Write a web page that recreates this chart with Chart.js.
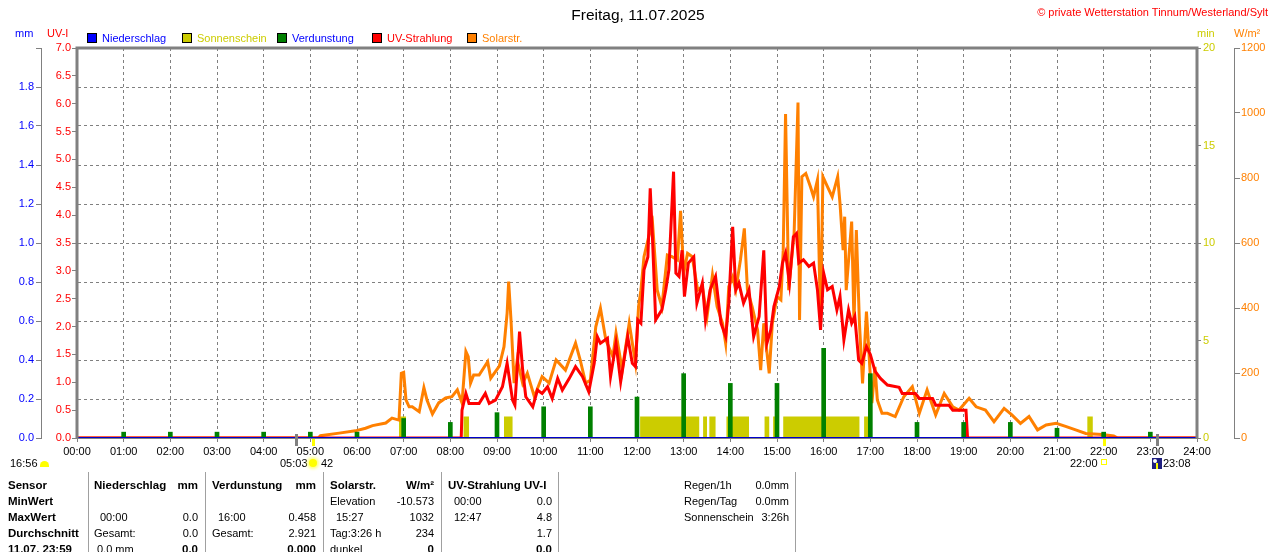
<!DOCTYPE html>
<html lang="de">
<head>
<meta charset="utf-8">
<title>Freitag, 11.07.2025</title>
<script src="https://cdn.jsdelivr.net/npm/chart.js@4.4.1/dist/chart.umd.min.js"></script>
<style>
  body { margin: 0; background: #fff; }
  #wrap { position: relative; width: 1280px; height: 552px; overflow: hidden;
          font-family: "Liberation Sans", Arial, sans-serif; font-size: 11px; color: #000; }
  #chart { position: absolute; left: 0; top: 0; }
  .t { position: absolute; white-space: nowrap; line-height: 14px; }
  .b { font-weight: bold; font-size: 11.5px; }
  .sq { position: absolute; width: 8px; height: 8px; border: 1px solid #000; }
</style>
</head>
<body>
<div id="wrap">
  <canvas id="chart" width="1280" height="552"></canvas>
</div>
<script>
// Freitag 11.07.2025 - Tagesverlauf

const hourLabels = ['00:00','01:00','02:00','03:00','04:00','05:00','06:00','07:00','08:00','09:00','10:00','11:00','12:00',
  '13:00','14:00','15:00','16:00','17:00','18:00','19:00','20:00','21:00','22:00','23:00','24:00'];

// Solarstrahlung W/m²
const solarTimes = [
  '00:00','05:10','05:13','05:37','05:58',
  '06:11','06:20','06:37','06:45','06:54','06:57',
  '07:00','07:03','07:07','07:11','07:20','07:26','07:30','07:37','07:45','07:54',
  '08:02','08:09','08:15','08:20','08:23','08:26','08:30','08:37','08:48','08:52',
  '09:03','09:09','09:13','09:15','09:18','09:22','09:26','09:33','09:39','09:48','09:58',
  '10:07','10:16','10:28','10:41','10:47','10:54',
  '11:00','11:07','11:13','11:20','11:29','11:33','11:41','11:50','11:58',
  '12:02','12:05','12:09','12:15','12:20','12:26','12:32','12:39','12:45','12:52','12:56',
  '13:00','13:05','13:11','13:18','13:24','13:30','13:37','13:43','13:50','13:54','13:58',
  '14:03','14:07','14:13','14:18','14:22','14:28','14:35','14:39','14:43','14:50','14:54',
  '15:00','15:05','15:08','15:11','15:15','15:22','15:27','15:29','15:32','15:37','15:43','15:47','15:52','15:56','15:59',
  '16:05','16:11','16:18','16:21','16:25','16:27','16:29','16:36','16:39','16:42','16:46','16:50','16:55','16:58',
  '17:02','17:06','17:09','17:15','17:22','17:32','17:43','17:54',
  '18:03','18:13','18:24','18:35','18:46','18:54',
  '19:07','19:16','19:28','19:39','19:52',
  '20:02','20:13','20:24','20:35','20:46','20:59',
  '21:12','21:24','21:37','21:58','22:13','22:18','24:00'];
const solarValues = [
  0, 0, 7, 15, 22,
  30, 38, 46, 61, 55, 199,
  202, 117, 96, 96, 81, 155, 117, 74, 108, 123,
  127, 148, 108, 266, 250, 169, 194, 194, 235, 184,
  221, 281, 384, 481, 363, 169, 240, 168, 199, 127, 189,
  169, 240, 209, 292, 240, 169,
  178, 342, 399, 301, 250, 323, 209, 353, 231,
  404, 455, 558, 619, 660, 455, 404, 563, 558, 548, 699,
  507, 568, 558, 455, 466, 373, 501, 404, 353, 291, 466,
  496, 455, 548, 645, 455, 404, 332, 209, 353, 199, 353,
  435, 425, 578, 997, 455, 630, 1032, 363, 804, 814, 773, 742, 794, 353, 804,
  773, 742, 804, 722, 578, 681, 455, 666, 353, 640, 353, 168, 389, 271,
  107, 219, 117, 76, 76, 66, 127, 158,
  76, 148, 71, 137, 96, 86,
  122, 96, 86, 50, 91,
  71, 45, 66, 25, 40, 45,
  35, 25, 14, 11, 6, 0, 0];

// UV-Strahlung UV-I
const uvTimes = [
  '00:00','08:14','08:15','08:20','08:24','08:37','08:45','08:50','08:58',
  '09:07','09:13','09:20','09:23','09:29','09:33','09:37','09:46','09:52','09:58',
  '10:05','10:11','10:18','10:24','10:33','10:41','10:50','10:58',
  '11:05','11:09','11:13','11:22','11:26','11:33','11:39','11:48','11:54','11:58',
  '12:01','12:05','12:09','12:14','12:17','12:20','12:24','12:32','12:37','12:41','12:47','12:50','12:54','12:58',
  '13:01','13:06','13:13','13:17','13:24','13:28','13:34','13:41','13:48','13:54','13:58',
  '14:03','14:07','14:11','14:17','14:24','14:30','14:37','14:43','14:47','14:52','14:56',
  '15:03','15:07','15:11','15:16','15:21','15:25','15:28','15:34','15:41','15:47','15:52','15:56',
  '16:00','16:05','16:11','16:17','16:21','16:26','16:32','16:36','16:40','16:45','16:49','16:55',
  '17:00','17:06','17:13','17:22','17:37','17:41','17:58',
  '18:03','18:20','18:24','18:41','18:46','19:03','19:05','24:00'];
const uvValues = [
  0, 0, 0.50, 0.80, 0.62, 0.62, 0.80, 0.62, 0.68,
  0.92, 1.34, 0.68, 0.59, 1.91, 1.22, 0.74, 0.56, 0.86, 0.80,
  0.92, 0.71, 1.07, 0.86, 1.07, 1.28, 1.10, 0.83,
  1.34, 1.82, 1.70, 1.79, 1.10, 1.70, 1.01, 1.82, 1.34, 1.28,
  2.12, 2.06, 3.02, 3.25, 4.48, 3.55, 2.12, 2.30, 2.66, 3.02, 4.78, 2.96, 2.90, 3.37,
  2.54, 3.14, 3.25, 2.42, 2.78, 2.12, 2.66, 2.90, 2.06, 1.82, 2.42,
  3.79, 2.66, 2.78, 2.42, 2.66, 1.82, 2.18, 3.37, 1.70, 1.94, 2.36,
  2.72, 3.14, 3.32, 2.78, 3.61, 3.67, 3.14, 3.20, 3.08, 3.14, 2.66, 1.94,
  2.96, 2.66, 2.72, 2.30, 2.54, 1.76, 2.30, 2.06, 2.18, 1.40, 1.34, 1.64,
  1.50, 1.20, 1.07, 0.95, 0.91, 0.80, 0.80,
  0.71, 0.71, 0.59, 0.59, 0.50, 0.50, 0, 0];

// Sonnenschein (min), Intervalle
const sunStart = ['06:54','08:17','09:09','12:04','13:25','13:33','13:55','14:44','14:55','15:08','16:52','21:39'];
const sunEnd   = ['07:03','08:24','09:20','13:20','13:30','13:41','14:24','14:50','15:02','16:46','16:58','21:46'];
const sunLevel = 1.1;

// Verdunstung mm, stündlich
const evapTimes = ['01:00','02:00','03:00','04:00','05:00','06:00','07:00','08:00','09:00','10:00','11:00','12:00',
  '13:00','14:00','15:00','16:00','17:00','18:00','19:00','20:00','21:00','22:00','23:00'];
const evapValues = [0.03, 0.03, 0.03, 0.03, 0.03, 0.03, 0.10, 0.08, 0.13, 0.16, 0.16, 0.21,
  0.33, 0.28, 0.28, 0.46, 0.33, 0.08, 0.08, 0.08, 0.05, 0.03, 0.03];

// Niederschlag mm
const rainTimes = ['00:00', '24:00'];
const rainValues = [0, 0];

// Dämmerung / Sonnenauf- und -untergang
const twilightTimes = ['04:42', '23:08'];
const sunEventTimes = ['05:03', '22:00'];

const toMin = s => { const [h, m] = s.split(':').map(Number); return h * 60 + m; };
const pts = (times, vals) => times.map((t, i) => ({ x: toMin(t), y: vals[i] }));

const sunPoints = [{ x: 0, y: 0 }];
sunStart.forEach((s, i) => {
  sunPoints.push({ x: toMin(s), y: sunLevel });
  sunPoints.push({ x: toMin(sunEnd[i]), y: 0 });
});
sunPoints.push({ x: 1440, y: 0 });

Chart.defaults.font.family = '"Liberation Sans", Arial, sans-serif';
Chart.defaults.font.size = 11;
Chart.defaults.color = '#000';

const GREY = '#808080';

const frame = {
  id: 'frame',
  afterDatasetsDraw(chart) {
    const { ctx, chartArea: a } = chart;
    ctx.save();
    ctx.strokeStyle = GREY;
    ctx.lineWidth = 3;
    ctx.beginPath();
    ctx.moveTo(a.left, a.bottom);
    ctx.lineTo(a.left, a.top);
    ctx.lineTo(a.right, a.top);
    ctx.lineTo(a.right, a.bottom);
    ctx.stroke();
    ctx.restore();
  },
  afterDraw(chart) {
    const { ctx, chartArea: a } = chart;
    const x = chart.scales.x;
    ctx.save();
    ctx.lineWidth = 3;
    ctx.strokeStyle = GREY;
    twilightTimes.forEach(t => {
      const px = Math.round(x.getPixelForValue(toMin(t))) + 0.5;
      ctx.beginPath(); ctx.moveTo(px, a.bottom - 4); ctx.lineTo(px, a.bottom + 8); ctx.stroke();
    });
    ctx.strokeStyle = '#ffff00';
    sunEventTimes.forEach(t => {
      const px = Math.round(x.getPixelForValue(toMin(t))) + 0.5;
      ctx.beginPath(); ctx.moveTo(px, a.bottom + 1); ctx.lineTo(px, a.bottom + 8); ctx.stroke();
    });
    ctx.restore();
  }
};

const chart = new Chart(document.getElementById('chart'), {
  type: 'line',
  data: {
    datasets: [
      {
        label: 'Niederschlag', data: pts(rainTimes, rainValues), yAxisID: 'mm',
        borderColor: '#0000cc', borderWidth: 2, pointRadius: 0, order: 1
      },
      {
        type: 'bar', label: 'Verdunstung', data: pts(evapTimes, evapValues), yAxisID: 'mm',
        backgroundColor: '#008000', barThickness: 4, order: 2
      },
      {
        label: 'UV-Strahlung', data: pts(uvTimes, uvValues), yAxisID: 'uv',
        borderColor: '#ff0000', borderWidth: 3, pointRadius: 0, tension: 0, order: 3
      },
      {
        label: 'Solarstr.', data: pts(solarTimes, solarValues), yAxisID: 'w',
        borderColor: '#ff8000', borderWidth: 3, pointRadius: 0, tension: 0, order: 4
      },
      {
        label: 'Sonnenschein', data: sunPoints, yAxisID: 'min', stepped: 'before',
        borderWidth: 0, borderColor: 'rgba(0,0,0,0)', backgroundColor: '#cccc00',
        fill: 'origin', pointRadius: 0, order: 5
      }
    ]
  },
  options: {
    responsive: false,
    devicePixelRatio: 1,
    animation: false,
    events: [],
    layout: { padding: { top: 48, bottom: 84, left: 0, right: 0 } },
    plugins: { legend: { display: false }, tooltip: { enabled: false } },
    scales: {
      x: {
        type: 'linear', min: 0, max: 1440, offset: false,
        ticks: {
          stepSize: 60, autoSkip: false, maxRotation: 0, padding: 3, color: '#000',
          callback: v => hourLabels[Math.round(v / 60)]
        },
        grid: { offset: false, color: GREY, tickLength: 4, tickColor: GREY, tickBorderDash: [] },
        border: { display: true, color: GREY, width: 1, dash: [3, 3] },
        afterFit: s => { s.height = 30; }
      },
      mm: {
        position: 'left', weight: 1, min: 0, max: 2,
        ticks: { stepSize: 0.2, color: '#0000ff', padding: 2, callback: v => (v > 1.99 ? '' : v.toFixed(1)) },
        grid: { color: GREY, tickLength: 5, tickColor: GREY, tickBorderDash: [] },
        border: { display: true, color: GREY, width: 1, dash: [3, 3] },
        afterFit: s => { s.width = 41; }
      },
      uv: {
        position: 'left', weight: 0, min: 0, max: 7,
        ticks: { stepSize: 0.5, color: '#ff0000', padding: 1, callback: v => v.toFixed(1) },
        grid: { drawOnChartArea: false, tickLength: 5, tickColor: GREY },
        border: { display: true, color: GREY, width: 1 },
        afterFit: s => { s.width = 36; }
      },
      min: {
        position: 'right', weight: 0, min: 0, max: 20,
        ticks: { stepSize: 5, color: '#cccc00', padding: 2, callback: v => String(v) },
        grid: { drawOnChartArea: false, tickLength: 4, tickColor: GREY },
        border: { display: true, color: GREY, width: 1 },
        afterFit: s => { s.width = 37; }
      },
      w: {
        position: 'right', weight: 1, min: 0, max: 1200,
        ticks: { stepSize: 200, color: '#ff8000', padding: 1, callback: v => String(v) },
        grid: { drawOnChartArea: false, tickLength: 6, tickColor: GREY },
        border: { display: true, color: GREY, width: 1 },
        afterFit: s => { s.width = 46; }
      }
    }
  },
  plugins: [frame]
});

// Texte rund um das Diagramm
const wrap = document.getElementById('wrap');
function put(text, x, y, opts = {}) {
  const s = document.createElement('span');
  s.className = 't' + (opts.bold ? ' b' : '');
  s.textContent = text;
  if (opts.color) s.style.color = opts.color;
  if (opts.size) s.style.fontSize = opts.size + 'px';
  const lh = opts.lh || 14;
  s.style.lineHeight = lh + 'px';
  s.style.top = (y - lh / 2) + 'px';
  if (opts.align === 'right') s.style.right = (1280 - x) + 'px';
  else if (opts.align === 'center') { s.style.left = x + 'px'; s.style.transform = 'translateX(-50%)'; }
  else s.style.left = x + 'px';
  wrap.appendChild(s);
  return s;
}
function box(x, y, w, h, css) {
  const d = document.createElement('div');
  d.style.cssText = `position:absolute;left:${x}px;top:${y}px;width:${w}px;height:${h}px;` + css;
  wrap.appendChild(d);
  return d;
}

put('Freitag, 11.07.2025', 638, 15, { align: 'center', size: 15.5, lh: 18 });
put('\u00a9 private Wetterstation Tinnum/Westerland/Sylt', 1268, 12, { align: 'right', color: '#ff0000' });

put('mm', 15, 33, { color: '#0000ff' });
put('UV-I', 47, 33, { color: '#ff0000' });
put('min', 1197, 33, { color: '#cccc00' });
put('W/m\u00b2', 1234, 33, { color: '#ff8000' });

const legendItems = [
  ['Niederschlag', '#0000ff', '#0000ff', 87],
  ['Sonnenschein', '#cccc00', '#cccc00', 182],
  ['Verdunstung', '#008000', '#0000ff', 277],
  ['UV-Strahlung', '#ff0000', '#ff0000', 372],
  ['Solarstr.', '#ff8000', '#ff8000', 467]
];
legendItems.forEach(([name, fill, textColor, x]) => {
  const sq = document.createElement('div');
  sq.className = 'sq';
  sq.style.left = x + 'px';
  sq.style.top = '33px';
  sq.style.background = fill;
  wrap.appendChild(sq);
  put(name, x + 15, 38, { color: textColor });
});

// Sonnenzeiten unter der Achse
put('16:56', 10, 463);
box(40, 461, 9, 6, 'background:#ffff00;border-radius:5px 5px 0 0;');
put('05:03', 280, 463);
box(309, 459, 8, 8, 'background:#ffff00;border-radius:50%;box-shadow:0 0 3px 2px #ffff80;');
put('42', 321, 463);
put('22:00', 1070, 463);
box(1101, 459, 4, 4, 'border:1px solid #ffff00;');
const moon = box(1152, 458, 10, 11, 'background:#202080;overflow:hidden;');
moon.innerHTML = '<div style="position:absolute;left:1px;top:1px;width:4px;height:4px;border-radius:50%;background:#fff;"></div>' +
  '<div style="position:absolute;left:4px;top:5px;width:2px;height:6px;background:#ffff00;"></div>';
put('23:08', 1163, 463);

// Tabelle
[88, 205, 323, 441, 558, 795].forEach(x => box(x, 472, 1, 80, 'background:#a0a0a0;'));

const rowsY = [485, 501, 517, 533, 549];
put('Sensor', 8, rowsY[0], { bold: true });
put('MinWert', 8, rowsY[1], { bold: true });
put('MaxWert', 8, rowsY[2], { bold: true });
put('Durchschnitt', 8, rowsY[3], { bold: true });
put('11.07. 23:59', 8, rowsY[4], { bold: true });

put('Niederschlag', 94, rowsY[0], { bold: true });
put('mm', 198, rowsY[0], { bold: true, align: 'right' });
put('00:00', 100, rowsY[2]);
put('0.0', 198, rowsY[2], { align: 'right' });
put('Gesamt:', 94, rowsY[3]);
put('0.0', 198, rowsY[3], { align: 'right' });
put('0.0 mm', 97, rowsY[4]);
put('0.0', 198, rowsY[4], { align: 'right', bold: true });

put('Verdunstung', 212, rowsY[0], { bold: true });
put('mm', 316, rowsY[0], { bold: true, align: 'right' });
put('16:00', 218, rowsY[2]);
put('0.458', 316, rowsY[2], { align: 'right' });
put('Gesamt:', 212, rowsY[3]);
put('2.921', 316, rowsY[3], { align: 'right' });
put('0.000', 316, rowsY[4], { align: 'right', bold: true });

put('Solarstr.', 330, rowsY[0], { bold: true });
put('W/m\u00b2', 434, rowsY[0], { bold: true, align: 'right' });
put('Elevation', 330, rowsY[1]);
put('-10.573', 434, rowsY[1], { align: 'right' });
put('15:27', 336, rowsY[2]);
put('1032', 434, rowsY[2], { align: 'right' });
put('Tag:3:26 h', 330, rowsY[3]);
put('234', 434, rowsY[3], { align: 'right' });
put('dunkel', 330, rowsY[4]);
put('0', 434, rowsY[4], { align: 'right', bold: true });

put('UV-Strahlung UV-I', 448, rowsY[0], { bold: true });
put('00:00', 454, rowsY[1]);
put('0.0', 552, rowsY[1], { align: 'right' });
put('12:47', 454, rowsY[2]);
put('4.8', 552, rowsY[2], { align: 'right' });
put('1.7', 552, rowsY[3], { align: 'right' });
put('0.0', 552, rowsY[4], { align: 'right', bold: true });

put('Regen/1h', 684, rowsY[0]);
put('0.0mm', 789, rowsY[0], { align: 'right' });
put('Regen/Tag', 684, rowsY[1]);
put('0.0mm', 789, rowsY[1], { align: 'right' });
put('Sonnenschein', 684, rowsY[2]);
put('3:26h', 789, rowsY[2], { align: 'right' });
</script>
</body>
</html>
